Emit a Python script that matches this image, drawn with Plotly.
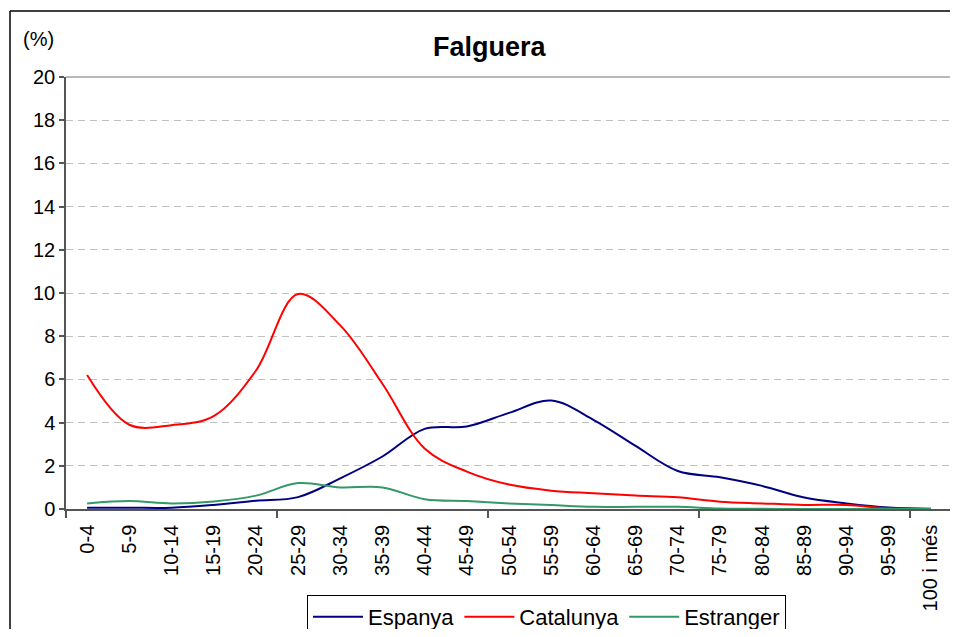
import plotly.graph_objects as go

categories = ["0-4", "5-9", "10-14", "15-19", "20-24", "25-29", "30-34", "35-39",
              "40-44", "45-49", "50-54", "55-59", "60-64", "65-69", "70-74", "75-79",
              "80-84", "85-89", "90-94", "95-99", "100 i més"]

espanya = [0.06, 0.06, 0.06, 0.19, 0.38, 0.55, 1.42, 2.43, 3.71, 3.82, 4.45,
           5.02, 4.13, 2.92, 1.76, 1.47, 1.07, 0.53, 0.26, 0.07, 0.01]
catalunya = [6.2, 3.9, 3.88, 4.3, 6.4, 9.95, 8.5, 5.8, 2.8, 1.73, 1.13,
             0.85, 0.73, 0.62, 0.54, 0.34, 0.26, 0.19, 0.19, 0.03, 0.0]
estranger = [0.26, 0.37, 0.26, 0.35, 0.62, 1.2, 1.0, 1.0, 0.45, 0.37, 0.26,
             0.18, 0.1, 0.1, 0.1, 0.02, 0.01, 0.0, 0.0, 0.0, 0.0]

y_ticks = list(range(0, 21, 2))

FONT = "Arial, Liberation Sans, sans-serif"
x_idx = list(range(len(categories)))

series = [("Espanya", espanya, "#000080"),
          ("Catalunya", catalunya, "#FF0000"),
          ("Estranger", estranger, "#339966")]

fig = go.Figure()
for name, vals, color in series:
    fig.add_trace(go.Scatter(
        x=x_idx, y=vals, name=name, mode="lines",
        line=dict(color=color, width=2, shape="spline", smoothing=1.0),
    ))

fig.update_layout(
    width=945, height=621,
    margin=dict(l=58, r=1, t=69, b=120, autoexpand=False),
    paper_bgcolor="white", plot_bgcolor="white",
    font=dict(family=FONT, size=20, color="black"),
    showlegend=True,
    legend=dict(orientation="h", x=0.272, y=-0.199, xanchor="left", yanchor="top",
                bordercolor="black", borderwidth=1, font=dict(size=22),
                bgcolor="white", itemwidth=50, tracegroupgap=0),
    xaxis=dict(
        range=[-0.5, len(categories) - 0.5],
        tickmode="array", tickvals=x_idx, ticktext=categories,
        tickangle=-90, ticks="", showgrid=False, zeroline=False,
        showline=True, linecolor="#555555", linewidth=1.5,
        tickfont=dict(size=20), automargin=False,
        ticklabelstandoff=6,
        minor=dict(tickmode="array", tickvals=[-0.5, 4.5, 9.5, 14.5, 19.5],
                   ticks="outside", ticklen=7, tickcolor="#555555", tickwidth=1.5,
                   showgrid=False),
    ),
    yaxis=dict(
        range=[0, 20], tickmode="array", tickvals=y_ticks,
        ticks="outside", ticklen=5, tickcolor="#555555", tickwidth=1.5,
        showline=True, linecolor="#555555", linewidth=1.5,
        showgrid=True, gridcolor="#c0c0c0", griddash="7px,5px", gridwidth=1,
        zeroline=False, tickfont=dict(size=20), automargin=False,
    ),
    annotations=[
        dict(text="<b>Falguera</b>", xref="paper", yref="paper", x=0.4786, y=1.069,
             xanchor="center", yanchor="middle", showarrow=False,
             font=dict(size=27, family=FONT)),
        dict(text="(%)", xref="paper", yref="paper", x=-0.0305, y=1.088,
             xanchor="center", yanchor="middle", showarrow=False,
             font=dict(size=20, family=FONT)),
    ],
    shapes=[
        # plot-area border (top and right)
        dict(type="line", xref="paper", yref="paper", x0=0, x1=1, y0=1, y1=1,
             line=dict(color="#a0a0a0", width=1.5)),
        dict(type="line", xref="paper", yref="paper", x0=1, x1=1, y0=0, y1=1,
             line=dict(color="#a0a0a0", width=1.5)),
        # outer chart frame
        dict(type="line", xref="paper", yref="paper", x0=-0.0632, x1=1.2, y0=1.1528, y1=1.1528,
             line=dict(color="black", width=1.5)),
        dict(type="line", xref="paper", yref="paper", x0=-0.0632, x1=-0.0632, y0=-0.4, y1=1.1528,
             line=dict(color="black", width=1.5)),
    ],
)

fig.write_html("out.html")
